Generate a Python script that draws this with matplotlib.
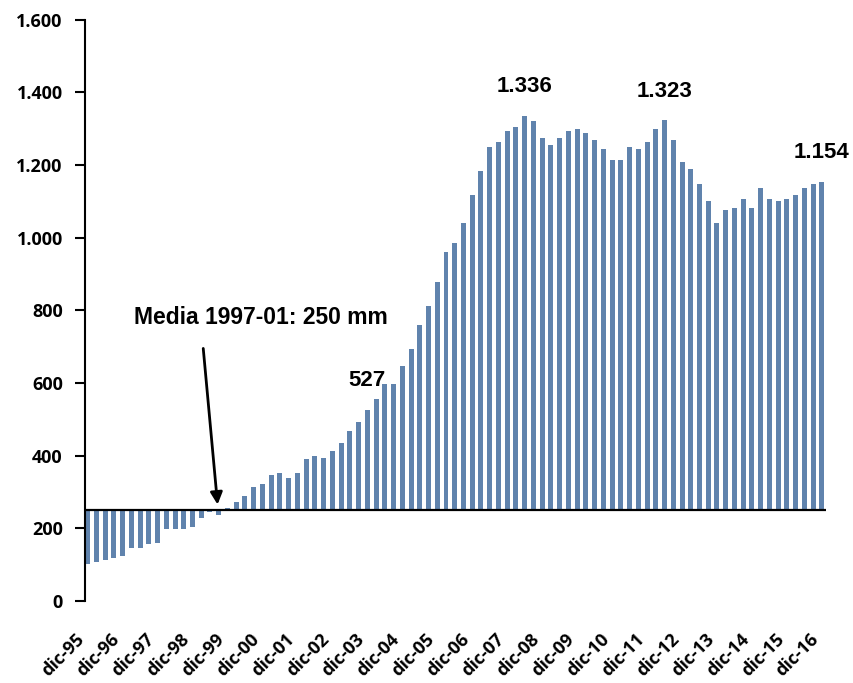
import numpy as np
import matplotlib.pyplot as plt
from matplotlib.transforms import ScaledTranslation

# valori trimestrali dic-95 .. dic-16 (mm)
valori = [102, 107, 113, 118, 125, 147, 147, 157, 161, 197,
          197, 197, 203, 228, 244, 238, 257, 273, 288, 313,
          323, 347, 353, 339, 353, 390, 400, 394, 414, 436,
          467, 492, 527, 557, 598, 598, 648, 695, 761, 811,
          877, 962, 985, 1040, 1117, 1183, 1250, 1263, 1294, 1305,
          1336, 1321, 1274, 1255, 1274, 1294, 1299, 1288, 1269, 1244,
          1213, 1213, 1250, 1244, 1263, 1299, 1323, 1269, 1208, 1189,
          1147, 1101, 1040, 1076, 1081, 1106, 1081, 1136, 1106, 1101,
          1106, 1117, 1136, 1147, 1154]
anni = ["95", "96", "97", "98", "99", "00", "01", "02", "03", "04", "05",
        "06", "07", "08", "09", "10", "11", "12", "13", "14", "15", "16"]
etichette = ["dic-" + a for a in anni]
media = 250
evidenziati = [32, 50, 66, 84]  # indici barre con valore scritto

x = np.arange(len(valori))
v = np.array(valori)

fig = plt.figure(figsize=(8.54, 6.83), dpi=100)
ax = fig.add_axes([0.0995, 0.120, 0.8675, 0.851])

ax.bar(x, v - media, bottom=media, width=0.57, color="#6083ad")
ax.axhline(media, color="black", lw=1.6)

ax.set_xlim(-0.3, 84.45)
ax.set_ylim(0, 1600)
ax.set_yticks(np.arange(0, 1601, 200))
ax.set_yticklabels(["{:,}".format(t).replace(",", ".") for t in range(0, 1601, 200)],
                   fontweight="bold", fontsize=13, family="Open Sans")
ax.set_xticks(x[::4])
ax.set_xticklabels(etichette, rotation=45, ha="right", va="top",
                   rotation_mode="anchor", fontweight="bold", fontsize=13,
                   family="Open Sans")
ax.tick_params(axis="x", length=0, pad=21)
ax.tick_params(axis="y", direction="out", length=7, width=1.5, pad=9)
sposta = ScaledTranslation(-12 / 100, 0, fig.dpi_scale_trans)
for lab in ax.get_xticklabels():
    lab.set_transform(lab.get_transform() + sposta)

for s in ["top", "right", "bottom"]:
    ax.spines[s].set_visible(False)
ax.spines["left"].set_linewidth(1.5)

for i in evidenziati:
    testo = "{:,}".format(valori[i]).replace(",", ".")
    ax.annotate(testo, (x[i], valori[i]), xytext=(0, 21), textcoords="offset points",
                ha="center", va="center", fontsize=16, fontweight="bold",
                family="Liberation Sans")

ax.annotate("", xy=(14.9, 258), xytext=(13.2, 703),
            arrowprops=dict(arrowstyle="-|>", color="black", lw=2, mutation_scale=18))
ax.text(19.8, 780, "Media 1997-01: 250 mm", ha="center", va="center",
        fontsize=16.5, fontweight="bold", family="Liberation Sans")

fig.savefig("out.png", dpi=100)
